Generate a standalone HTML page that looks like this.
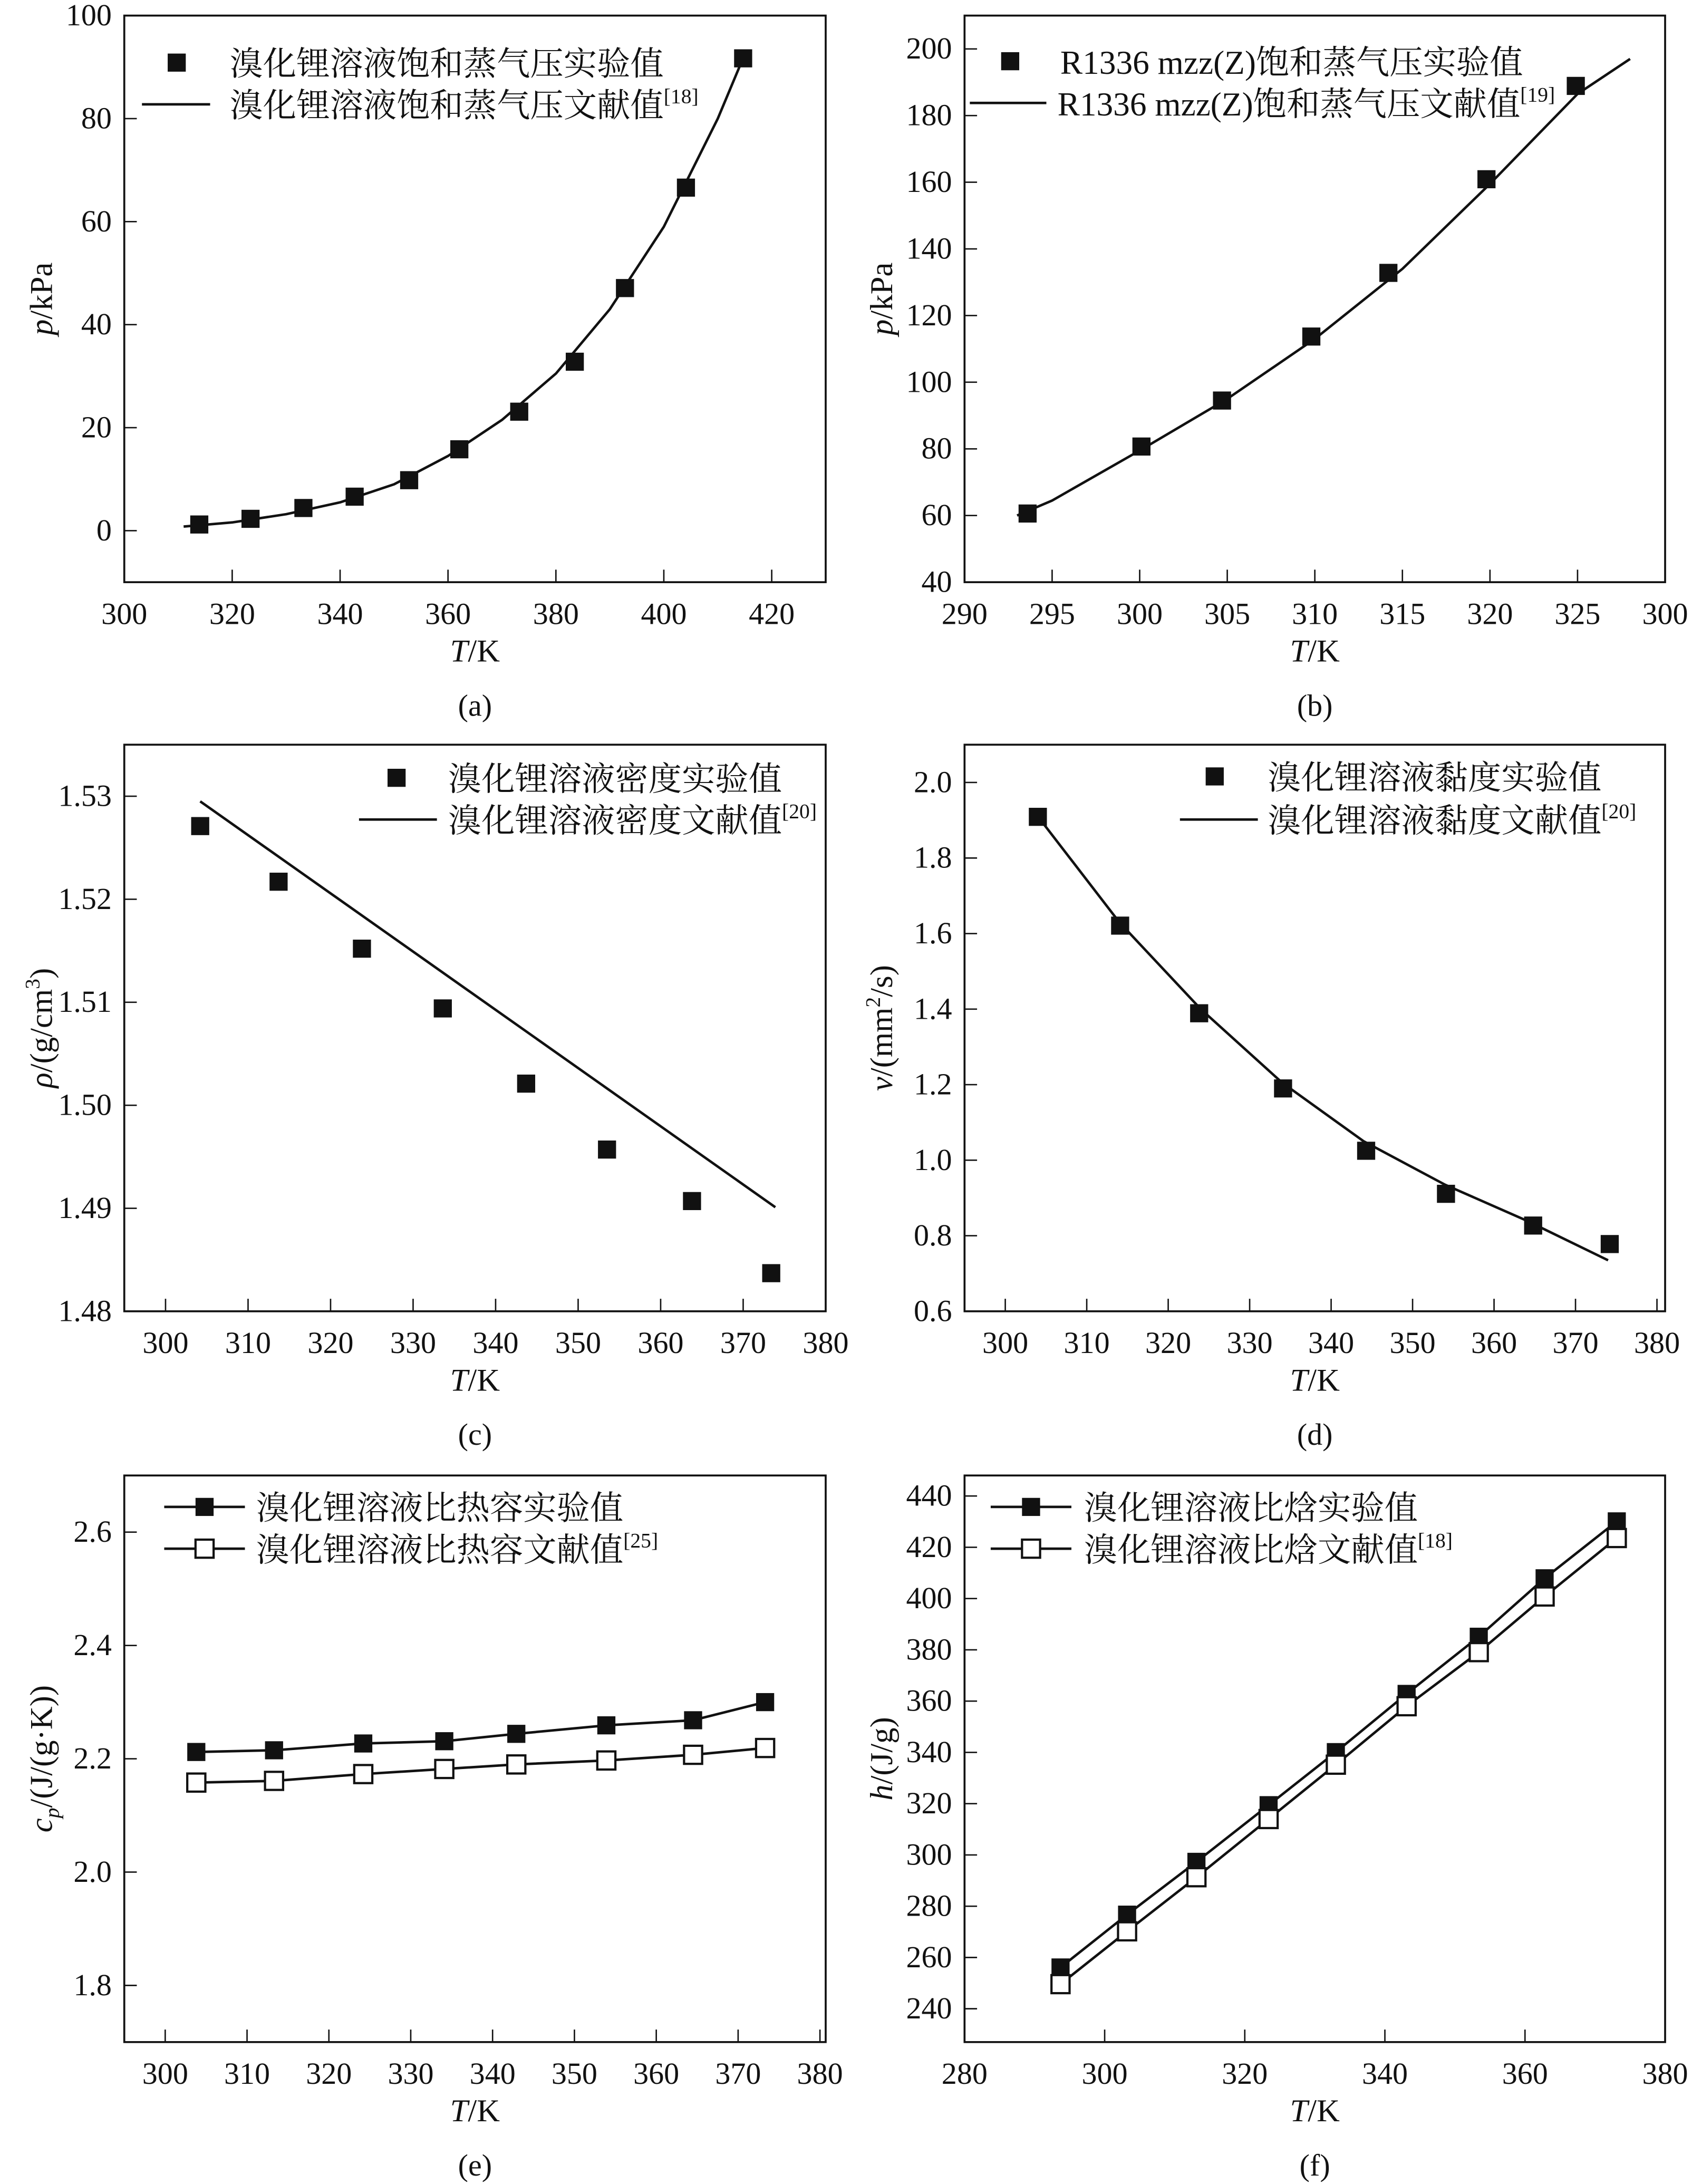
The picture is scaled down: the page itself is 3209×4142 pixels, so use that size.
<!DOCTYPE html>
<html><head><meta charset="utf-8">
<style>
html,body{margin:0;padding:0;background:#fff;}
svg{display:block;}
text{font-family:"Liberation Serif","Noto Serif CJK SC","Noto Sans CJK SC",serif;fill:#111;}
</style></head>
<body>
<svg id="fig" xmlns="http://www.w3.org/2000/svg" width="3209" height="4142" viewBox="0 0 1216 1569.6">
<rect x="0" y="0" width="1216" height="1569.6" fill="#fff"/>
</svg>
<script>
// ---- data (a)
const aExpT=[313.9,323.4,333.2,342.7,352.8,362.1,373.2,383.5,392.8,404.1,414.7];
const aExpP=[1.2,2.3,4.4,6.6,9.8,15.8,23.1,32.8,47.1,66.6,91.7];
const aLitT=[311,320,330,340,350,360,370,380,390,400,410,415];
const aLitP=[0.8,1.6,3.2,5.5,9.0,14.5,21.5,30.5,43,59,80,92.5];
// ---- data (b)
const bExpT=[293.6,300.1,304.7,309.8,314.2,319.8,324.9];
const bExpP=[60.6,80.7,94.5,113.7,132.8,160.9,188.9];
const bLitT=[293,295,300,305,310,315,320,325,328];
const bLitP=[60,64.5,79.5,95,113,134,159.5,186.5,197];
// ---- data (c)
const cExpT=[304.2,313.7,323.8,333.6,343.7,353.5,363.8,373.4];
const cExpRho=[1.5271,1.5217,1.5152,1.5094,1.5021,1.4957,1.4907,1.4837];
const cLitT=[304.2,373.9];
const cLitRho=[1.5295,1.4901];
// ---- data (d)
const dExpT=[304,314.1,323.8,334.1,344.3,354.1,364.8,374.2];
const dExpNu=[1.909,1.621,1.389,1.190,1.025,0.911,0.827,0.778];
const dLitT=[304,314,324,334,344,354,364,374];
const dLitNu=[1.91,1.63,1.40,1.205,1.05,0.935,0.84,0.735];
// ---- data (e)
const eT=[303.8,313.3,324.2,334.1,342.9,353.9,364.5,373.3];
const eExpCp=[2.212,2.215,2.227,2.231,2.244,2.259,2.268,2.300];
const eLitCp=[2.158,2.161,2.173,2.182,2.190,2.197,2.207,2.219];
// ---- data (f)
const fT=[293.7,303.2,313.1,323.4,333.0,343.1,353.4,362.8,373.1];
const fExpH=[256.1,276.7,297.3,319.4,340.1,362.8,385.1,407.9,430.1];
const fLitH=[249.6,270.2,291.3,314.0,335.2,358.0,379.1,400.8,423.6];
// ---- ticks
const aXTicks=[300,320,340,360,380,400,420], aYTicks=[0,20,40,60,80,100];
const bXTicks=[290,295,300,305,310,315,320,325,330], bXLabels=["290","295","300","305","310","315","320","325","300"], bYTicks=[40,60,80,100,120,140,160,180,200];
const cXTicks=[300,310,320,330,340,350,360,370,380], cYTicks=[1.48,1.49,1.50,1.51,1.52,1.53];
const dXTicks=[300,310,320,330,340,350,360,370,380], dYTicks=[0.6,0.8,1.0,1.2,1.4,1.6,1.8,2.0];
const eXTicks=[300,310,320,330,340,350,360,370,380], eYTicks=[1.8,2.0,2.2,2.4,2.6];
const fXTicks=[280,300,320,340,360,380], fYTicks=[240,260,280,300,320,340,360,380,400,420,440];

const NS="http://www.w3.org/2000/svg";
const svg=document.getElementById('fig');
function mk(tag,attrs,parent){const e=document.createElementNS(NS,tag);for(const k in attrs)e.setAttribute(k,attrs[k]);(parent||svg).appendChild(e);return e;}

function panel(o){
  const g=mk('g',{});
  
  
  const sx=v=>o.L+(v-o.x0)/(o.x1-o.x0)*(o.R-o.L);
  const sy=v=>o.B-(v-o.y0)/(o.y1-o.y0)*(o.B-o.T);
  const box=mk('rect',{x:o.L,y:o.T,width:o.R-o.L,height:o.B-o.T,fill:'none',stroke:'#111','stroke-width':1.4},g);
  
  
  o.xt.forEach((v,i)=>{
    const x=sx(v);
    if(x>o.L+2&&x<o.R-2){const t=mk('line',{x1:x,x2:x,y1:o.B,y2:o.B-9,stroke:'#111','stroke-width':1},g);
      }
    const lb=mk('text',{x:x,y:o.B+30,'font-size':22,'text-anchor':'middle'},g);
    lb.textContent=o.xl?o.xl[i]:String(v);
    
    
  });
  o.yt.forEach(v=>{
    const y=sy(v);
    if(y>o.T+2&&y<o.B-2){const t=mk('line',{x1:o.L,x2:o.L+9,y1:y,y2:y,stroke:'#111','stroke-width':1},g);
      }
    const lb=mk('text',{x:o.L-9,y:y+7,'font-size':22,'text-anchor':'end'},g);
    lb.textContent=o.yfmt?o.yfmt(v):String(v);
    
    
  });
  const xt=mk('text',{x:(o.L+o.R)/2,y:o.B+57,'font-size':23,'text-anchor':'middle'},g);
  xt.innerHTML='<tspan font-style="italic">T</tspan>/K';
  
  
  const yc=(o.T+o.B)/2;
  const yt=mk('text',{x:0,y:0,'font-size':23,'text-anchor':'middle',transform:`translate(${o.L-52},${yc}) rotate(-90)`},g);
  yt.innerHTML=o.ylab;
  
  
  const cap=mk('text',{x:(o.L+o.R)/2,y:o.B+96,'font-size':22,'text-anchor':'middle'},g);
  cap.textContent=o.cap;
  
  
  return {g,sx,sy};
}
function line(p,xs,ys,name){
  let d='';
  xs.forEach((x,i)=>{d+=(i?'L':'M')+p.sx(x).toFixed(2)+','+p.sy(ys[i]).toFixed(2);});
  const e=mk('path',{d:d,fill:'none',stroke:'#111','stroke-width':1.8,'stroke-linejoin':'round'},p.g);
  
  
}
function squares(p,xs,ys,name,open){
  xs.forEach((x,i)=>{
    const s=13;
    const r=mk('rect',{x:p.sx(x)-s/2,y:p.sy(ys[i])-s/2,width:s,height:s,fill:open?'#fff':'#111',stroke:'#111','stroke-width':open?1.6:0},p.g);
    
    
  });
}
function legend(g,items){
  items.forEach(it=>{
    if(it.line){const l=mk('line',{x1:it.lx1,x2:it.lx2,y1:it.y,y2:it.y,stroke:'#111','stroke-width':1.8},g);
      }
    if(it.sq){const r=mk('rect',{x:it.sx-6.5,y:it.y-6.5,width:13,height:13,fill:it.open?'#fff':'#111',stroke:'#111','stroke-width':it.open?1.6:0},g);
      }
    const t=mk('text',{x:it.tx,y:it.y+9,'font-size':24},g);
    t.innerHTML=it.text;
    
    
  });
}
const sup=s=>`<tspan font-size="15" dy="-10">${s}</tspan>`;

// (a)
let pa=panel({id:'a',L:89.3,R:593.4,T:11.2,B:418.4,x0:300,x1:430,y0:-10,y1:100,xt:aXTicks,yt:aYTicks,ylab:'<tspan font-style="italic">p</tspan>/kPa',cap:'(a)'});
line(pa,aLitT,aLitP,'literature-curve-a');
squares(pa,aExpT,aExpP,'exp-point-a');
legend(pa.g,[{sq:1,sx:127,y:45,tx:165,text:'溴化锂溶液饱和蒸气压实验值'},{line:1,lx1:102,lx2:151,y:75,tx:165,text:'溴化锂溶液饱和蒸气压文献值'+sup('[18]')}]);
// (b)
let pb=panel({id:'b',L:693.2,R:1196.7,T:11.2,B:418.4,x0:290,x1:330,y0:40,y1:210,xt:bXTicks,xl:bXLabels,yt:bYTicks,ylab:'<tspan font-style="italic">p</tspan>/kPa',cap:'(b)'});
line(pb,bLitT,bLitP,'literature-curve-b');
squares(pb,bExpT,bExpP,'exp-point-b');
legend(pb.g,[{sq:1,sx:726,y:44,tx:762,text:'R1336 mzz(Z)饱和蒸气压实验值'},{line:1,lx1:697,lx2:752,y:74,tx:760,text:'R1336 mzz(Z)饱和蒸气压文献值'+sup('[19]')}]);
// (c)
let pc=panel({id:'c',L:89.3,R:593.4,T:535.2,B:942.4,x0:295,x1:380,y0:1.48,y1:1.535,xt:cXTicks,yt:cYTicks,yfmt:v=>v.toFixed(2),ylab:'<tspan font-style="italic">ρ</tspan>/(g/cm'+'<tspan font-size="15" dy="-9">3</tspan><tspan dy="9">)</tspan>',cap:'(c)'});
line(pc,cLitT,cLitRho,'literature-line-c');
squares(pc,cExpT,cExpRho,'exp-point-c');
legend(pc.g,[{sq:1,sx:285,y:559,tx:322,text:'溴化锂溶液密度实验值'},{line:1,lx1:258,lx2:314,y:589,tx:322,text:'溴化锂溶液密度文献值'+sup('[20]')}]);
// (d)
let pd=panel({id:'d',L:693.2,R:1196.7,T:535.2,B:942.4,x0:295,x1:381,y0:0.6,y1:2.1,xt:dXTicks,yt:dYTicks,yfmt:v=>v.toFixed(1),ylab:'<tspan font-style="italic">ν</tspan>/(mm'+'<tspan font-size="15" dy="-9">2</tspan><tspan dy="9">/s)</tspan>',cap:'(d)'});
line(pd,dLitT,dLitNu,'literature-curve-d');
squares(pd,dExpT,dExpNu,'exp-point-d');
legend(pd.g,[{sq:1,sx:873,y:558,tx:911,text:'溴化锂溶液黏度实验值'},{line:1,lx1:848,lx2:904,y:589,tx:911,text:'溴化锂溶液黏度文献值'+sup('[20]')}]);
// (e)
let pe=panel({id:'e',L:89.3,R:593.4,T:1060.4,B:1467.6,x0:295,x1:380.7,y0:1.7,y1:2.7,xt:eXTicks,yt:eYTicks,yfmt:v=>v.toFixed(1),ylab:'<tspan font-style="italic">c</tspan><tspan font-style="italic" font-size="15" dy="5">p</tspan><tspan dy="-5">/(J/(g·K))</tspan>',cap:'(e)'});
line(pe,eT,eExpCp,'exp-line-e');
line(pe,eT,eLitCp,'literature-line-e');
squares(pe,eT,eExpCp,'exp-point-e');
squares(pe,eT,eLitCp,'literature-point-e',true);
legend(pe.g,[{line:1,sq:1,lx1:118,lx2:176,sx:147,y:1083,tx:184,text:'溴化锂溶液比热容实验值'},{line:1,sq:1,open:1,lx1:118,lx2:176,sx:147,y:1113,tx:184,text:'溴化锂溶液比热容文献值'+sup('[25]')}]);
// (f)
let pf=panel({id:'f',L:693.2,R:1196.7,T:1060.4,B:1467.6,x0:280,x1:380,y0:227,y1:448,xt:fXTicks,yt:fYTicks,ylab:'<tspan font-style="italic">h</tspan>/(J/g)',cap:'(f)'});
line(pf,fT,fExpH,'exp-line-f');
line(pf,fT,fLitH,'literature-line-f');
squares(pf,fT,fExpH,'exp-point-f');
squares(pf,fT,fLitH,'literature-point-f',true);
legend(pf.g,[{line:1,sq:1,lx1:712,lx2:770,sx:741,y:1083,tx:779,text:'溴化锂溶液比焓实验值'},{line:1,sq:1,open:1,lx1:712,lx2:770,sx:741,y:1113,tx:779,text:'溴化锂溶液比焓文献值'+sup('[18]')}]);
</script>
</body></html>
